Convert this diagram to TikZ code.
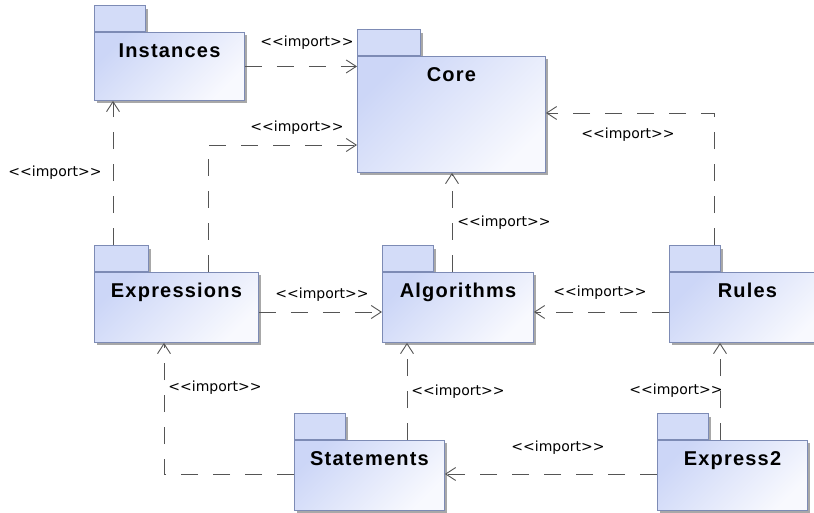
\documentclass[tikz,border=0pt]{standalone}
\usepackage{fontspec}
\newfontfamily\pkgfont{Liberation Sans}[LetterSpace=6]
\newfontfamily\lblfont{DejaVu Sans}
\usetikzlibrary{arrows.meta,shadows}
\definecolor{pkgborder}{HTML}{7D8BB5}
\definecolor{pkgA}{HTML}{CCD6F7}
\definecolor{pkgB}{HTML}{F8F9FE}
\definecolor{tabfill}{HTML}{D3DCF8}
\definecolor{shadowgray}{HTML}{A8A8A8}
\definecolor{linegray}{HTML}{555555}
\newcommand\pkgname{\pkgfont\bfseries\fontsize{20}{24}\selectfont}
\newcommand\impt{<\kern0pt<import>\kern0pt>}
\begin{document}
\begin{tikzpicture}[x=1pt,y=-1pt,
  pkgbody/.style={draw=pkgborder, line width=0.9pt, left color=pkgA, right color=pkgB, shading angle=45,
    anchor=north west, inner sep=0pt, text height=25pt, font=\pkgname,
    drop shadow={shadow xshift=3pt, shadow yshift=-3pt, fill=shadowgray, opacity=1}},
  pkgtab/.style={draw=pkgborder, line width=0.9pt, fill=tabfill, anchor=south west, inner sep=0pt,
    minimum height=26pt,
    drop shadow={shadow xshift=3pt, shadow yshift=-3pt, fill=shadowgray, opacity=1}},
  dep/.style={draw=linegray, line width=0.9pt, dash pattern=on 17pt off 15pt,
    -{Straight Barb[length=10pt,width=13pt]}},
  lbl/.style={font=\lblfont\fontsize{14}{16}\selectfont, inner sep=0pt, text=black}
]
\useasboundingbox (0,0) rectangle (814,513);

% packages
\node[pkgtab, minimum width=51pt] (instT) at (94,32) {};
\node[pkgbody, minimum width=150pt, text depth=43pt] (inst) at (94,32) {Instances};

\node[pkgtab, minimum width=63pt] (coreT) at (357,56) {};
\node[pkgbody, minimum width=188pt, text depth=91pt] (core) at (357,56) {Core};

\node[pkgtab, minimum width=54pt] (exprT) at (94,272) {};
\node[pkgbody, minimum width=164pt, text depth=45pt] (expr) at (94,272) {Expressions};

\node[pkgtab, minimum width=51pt] (algoT) at (382,272) {};
\node[pkgbody, minimum width=151pt, text depth=45pt] (algo) at (382,272) {Algorithms};

\node[pkgtab, minimum width=51pt] (rulesT) at (669,272) {};
\node[pkgbody, minimum width=156pt, text depth=45pt] (rules) at (669,272) {Rules};

\node[pkgtab, minimum width=51pt] (stmtT) at (294,440) {};
\node[pkgbody, minimum width=150pt, text depth=45pt] (stmt) at (294,440) {Statements};

\node[pkgtab, minimum width=51pt] (exp2T) at (657,440) {};
\node[pkgbody, minimum width=150pt, text depth=45pt] (exp2) at (657,440) {Express2};

% connectors
\draw[dep] (inst.east) -- (inst.east -| core.west);
\draw[dep] ([xshift=114pt]expr.north west) |- ([yshift=-89pt]core.north west);
\draw[dep] ([xshift=19pt]exprT.north west) -- ([xshift=19pt]inst.south west);
\draw[dep] ([xshift=70pt]algo.north west) -- ([xshift=70pt]algo.north west |- core.south);
\draw[dep] ([xshift=45pt]rulesT.north west) |- ([yshift=-57pt]core.north east);
\draw[dep] ([yshift=-40pt]rules.north west) -- ([yshift=-40pt]algo.north east);
\draw[dep] ([yshift=-40pt]expr.north east) -- ([yshift=-40pt]algo.north west);
\draw[dep] ([xshift=113pt]stmt.north west) -- ([xshift=25pt]algo.south west);
\draw[dep] ([yshift=-34pt]stmt.north west) -| ([xshift=70pt]expr.south west);
\draw[dep] ([yshift=-34pt]exp2.north west) -- ([yshift=-34pt]stmt.north east);
\draw[dep] ([xshift=63pt]exp2.north west) -- ([xshift=63pt]exp2.north west |- rules.south);

% labels
\node[lbl] (l1) at (307,43) {\impt};
\node[lbl] (l2) at (297,128) {\impt};
\node[lbl] (l3) at (55,173) {\impt};
\node[lbl] (l4) at (504,223) {\impt};
\node[lbl] (l5) at (628,135) {\impt};
\node[lbl] (l6) at (600,293) {\impt};
\node[lbl] (l7) at (322,295) {\impt};
\node[lbl] (l8) at (458,392) {\impt};
\node[lbl] (l9) at (215,388) {\impt};
\node[lbl] (l10) at (558,448) {\impt};
\node[lbl] (l11) at (676,391) {\impt};
\end{tikzpicture}
\end{document}
